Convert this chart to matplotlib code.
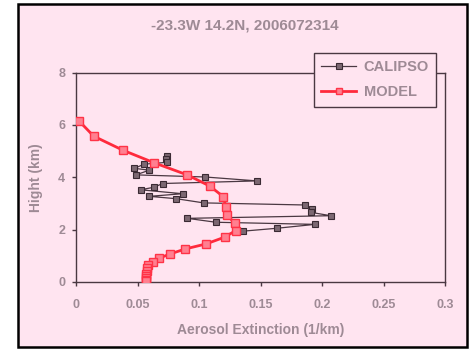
import matplotlib
matplotlib.use("Agg")
import matplotlib.pyplot as plt
from matplotlib.patches import Rectangle

# CALIPSO profile (extinction 1/km, height km)
calipso_ext = [0.0735, 0.0729, 0.0740, 0.0553, 0.0472, 0.0594, 0.0485, 0.1046,
               0.1469, 0.0702, 0.0634, 0.0523, 0.0865, 0.0594, 0.0813, 0.1036,
               0.1860, 0.1917, 0.1906, 0.2070, 0.0903, 0.1136, 0.1943, 0.1630,
               0.1356]
calipso_hgt = [4.83, 4.70, 4.57, 4.50, 4.34, 4.27, 4.09, 4.01,
               3.86, 3.76, 3.62, 3.52, 3.37, 3.27, 3.18, 3.02,
               2.94, 2.79, 2.66, 2.53, 2.43, 2.28, 2.20, 2.05,
               1.94]

# model profile
model_ext = [0.0022, 0.0141, 0.0380, 0.0634, 0.0902, 0.1087, 0.1195, 0.1217,
             0.1228, 0.1288, 0.1296, 0.1206, 0.1054, 0.0886, 0.0764, 0.0672,
             0.0624, 0.0585, 0.0575, 0.0572, 0.0571, 0.0570, 0.0570, 0.0570,
             0.0570]
model_hgt = [6.15, 5.57, 5.03, 4.55, 4.09, 3.66, 3.26, 2.87,
             2.55, 2.24, 1.96, 1.71, 1.45, 1.26, 1.07, 0.905,
             0.76, 0.64, 0.52, 0.42, 0.32, 0.23, 0.15, 0.08,
             0.02]

title = "-23.3W 14.2N, 2006072314"
xticks = [0, 0.05, 0.1, 0.15, 0.2, 0.25, 0.3]
xtick_labels = ["0", "0.05", "0.1", "0.15", "0.2", "0.25", "0.3"]
yticks = [0, 2, 4, 6, 8]

pink = "#ffe4f0"
txt = "#9e8a95"
edge = "#4a3842"

plt.rcParams['font.family'] = ['Liberation Sans', 'DejaVu Sans']
plt.rcParams['font.weight'] = 'bold'

fig = plt.figure(figsize=(4.71, 3.52), dpi=100, facecolor="white")
# chart area with black frame
fig.patches.append(Rectangle((18 / 471, 5 / 352), 449 / 471, 343 / 352,
                             transform=fig.transFigure, facecolor=pink,
                             edgecolor="black", linewidth=1.8, zorder=-1))

ax = fig.add_axes([0.162, 0.199, 0.783, 0.595])
ax.set_zorder(1)
ax.set_facecolor(pink)

ax.plot(calipso_ext, calipso_hgt, '-s', color=edge, linewidth=0.9,
        markersize=5, markerfacecolor="#7c6872", markeredgecolor="#3a2a33",
        markeredgewidth=0.8, label="CALIPSO", zorder=3)
ax.plot(model_ext, model_hgt, '-s', color="#ff2a3c", linewidth=2,
        markersize=5.5, markerfacecolor="#ff8090", markeredgecolor="#ff3347",
        markeredgewidth=1, label="MODEL", zorder=4)

ax.set_xlim(0, 0.3)
ax.set_ylim(0, 8)
ax.set_xticks(xticks)
ax.set_xticklabels(xtick_labels)
ax.set_yticks(yticks)
ax.tick_params(axis='both', direction='out', length=3, width=1, color=edge,
               labelcolor=txt, labelsize=9)
ax.tick_params(axis='x', pad=9)
ax.tick_params(axis='y', pad=5)
ax.tick_params(top=False, right=False)
for s in ax.spines.values():
    s.set_color(edge)
    s.set_linewidth(1)

ax.set_xlabel("Aerosol Extinction (1/km)", color=txt, fontsize=10,
              fontweight='bold', labelpad=9)
ax.set_ylabel("Hight (km)", color=txt, fontsize=10, fontweight='bold',
              labelpad=11)
fig.text(0.519, 0.928, title, ha='center', va='center', color=txt,
         fontsize=11, fontweight='bold')

leg = ax.legend(loc='upper left', bbox_to_anchor=(314 / 471, 1 - 53 / 352),
                bbox_transform=fig.transFigure, frameon=True, fancybox=False,
                facecolor=pink, edgecolor=edge, framealpha=1,
                fontsize=10.5, handlelength=2.4, handletextpad=0.5,
                borderpad=0.5, labelspacing=0.75, borderaxespad=0,
                markerscale=0.8)
leg.get_frame().set_linewidth(1)
for t in leg.get_texts():
    t.set_color(txt)
    t.set_fontweight('bold')

fig.savefig("out.png", dpi=100, facecolor=fig.get_facecolor())
